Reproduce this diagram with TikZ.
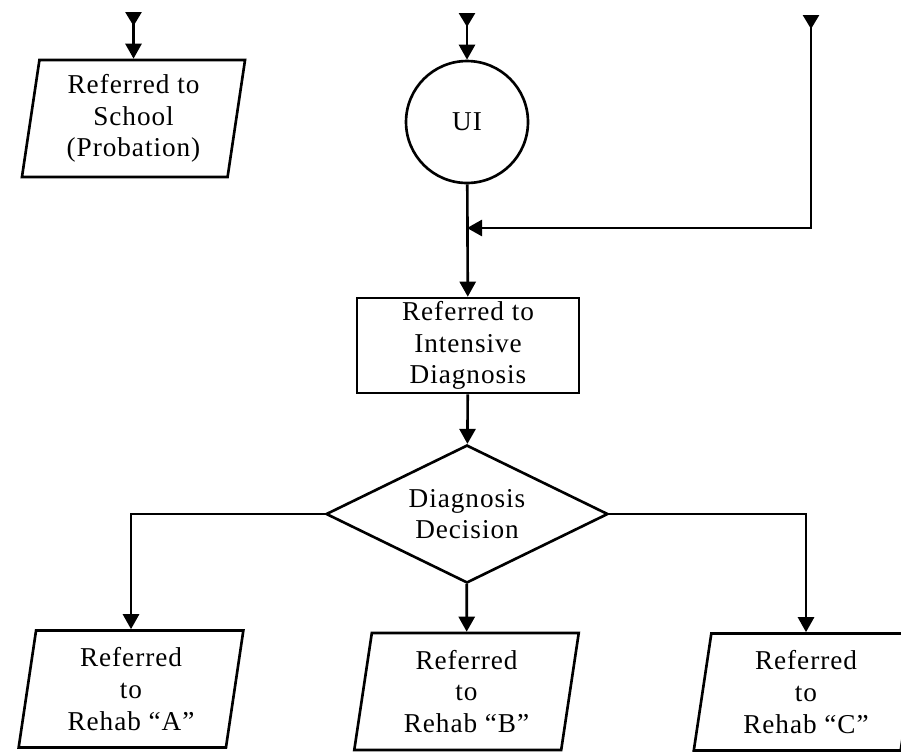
\documentclass[tikz,border=0pt]{standalone}
\usepackage{fontspec}
\setmainfont{Liberation Serif}
\usetikzlibrary{shapes.geometric,arrows.meta}

\begin{document}
\begin{tikzpicture}[
        x=0.02cm, y=-0.02cm,
        every node/.style={draw, line width=1.5pt, align=center, inner sep=0pt,
            font=\addfontfeature{LetterSpace=3.5}\fontsize{15.5}{18}\selectfont},
        iobox/.style={trapezium, trapezium left angle=82, trapezium right angle=98,
            trapezium stretches=true, minimum width=4.5cm, minimum height=2.34cm},
        flow/.style={line width=1.5pt, -{Triangle[width=0.32cm, length=0.3cm]}},
        feed/.style={flow, {Triangle[reversed, width=0.32cm, length=0.28cm]}-{Triangle[width=0.32cm, length=0.3cm]}}
    ]
        \useasboundingbox (0,0) rectangle (901,752);

        % Boxes
        \node[iobox] (school) at (133.5,118.5) {Referred to\\School\\(Probation)};
        \node[circle, minimum size=2.44cm] (ui) at (467,122) {UI};
        \node[rectangle, minimum width=4.44cm, minimum height=1.9cm] (intensive) at (468,345.5) {Referred to\\Intensive\\Diagnosis};
        \node[diamond, aspect=2.04, minimum width=5.64cm, minimum height=2.76cm] (decision) at (467,514) {Diagnosis\\Decision};
        \node[iobox] (rehabA) at (131,689) {Referred\\to\\Rehab ``A''};
        \node[iobox] (rehabB) at (466.5,691.5) {Referred\\to\\Rehab ``B''};
        \node[iobox] (rehabC) at (806,692) {Referred\\to\\Rehab ``C''};

        % Incoming ends
        \coordinate (inL) at (133.5,12);
        \coordinate (inM) at (467,13);
        \coordinate (inR) at (811,15);
        \coordinate (join) at (467,228);

        % Connectors
        \draw[feed] (inL) -- (school.north);
        \draw[feed] (inM) -- (ui);
        \draw[feed] (inR) |- (join);
        \draw[flow] (ui) -- (intensive);
        \draw[flow] (intensive) -- (decision);
        \draw[flow] (decision.west) -| (rehabA.north);
        \draw[flow] (decision) -- (rehabB);
        \draw[flow] (decision.east) -| (rehabC.north);
    \end{tikzpicture}
\end{document}
